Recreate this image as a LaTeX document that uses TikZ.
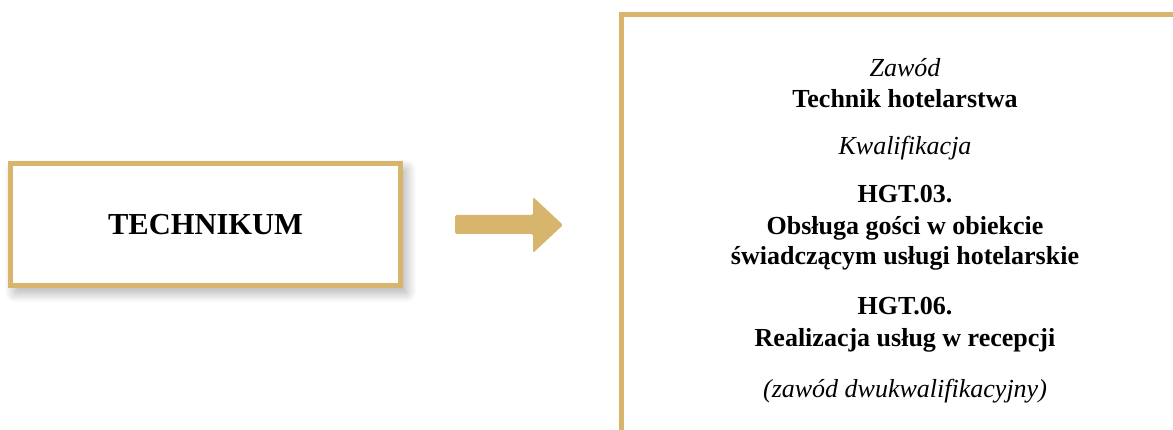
\documentclass[tikz,border=0pt]{standalone}
\usepackage{fontspec}
\setmainfont{Liberation Serif}
\usetikzlibrary{shadows.blur}
\definecolor{gold}{RGB}{215,181,108}

\begin{document}
\begin{tikzpicture}[x=1pt,y=-1pt,
    goldline/.style={draw=gold,line width=5pt},
    ttl/.style={anchor=base,font=\fontsize{26}{30}\selectfont\itshape},
    bld/.style={anchor=base,font=\fontsize{26}{30}\selectfont\bfseries}]
    \useasboundingbox (0,0) rectangle (1173,430);
    \begin{scope}
    \clip (0,0) rectangle (1173,430);
    % left box
    \node[goldline,fill=white,minimum width=390pt,minimum height=122pt,
      blur shadow={shadow xshift=5pt,shadow yshift=-6pt,shadow blur steps=20,shadow opacity=35,shadow blur radius=11pt},
      font=\fontsize{30.5}{36}\selectfont\bfseries] (technikum) at (205.5,225) {TECHNIKUM};
    % arrow
    \fill[gold,rounded corners=1.5pt] (455,215) -- (533,215) -- (533,197) -- (563,225)
      -- (533,253) -- (533,234) -- (455,234) -- cycle;
    % right box
    \coordinate (R0) at (621,440);
    \coordinate (R1) at (621,14.5);
    \coordinate (R2) at (1185,14.5);
    \draw[goldline] (R0) -- (R1) -- (R2);
    \end{scope}
    \node[ttl] (zawod) at (905,77) {Zawód};
    \node[bld] (nazwa) at (905,108) {Technik hotelarstwa};
    \node[ttl] (kwal) at (905,155) {Kwalifikacja};
    \node[bld] (hgt3) at (905,203) {HGT.03.};
    \node[bld] (hgt3a) at (905,235) {Obsługa gości w obiekcie};
    \node[bld] (hgt3b) at (905,265) {świadczącym usługi hotelarskie};
    \node[bld] (hgt6) at (905,315) {HGT.06.};
    \node[bld] (hgt6a) at (905,347) {Realizacja usług w recepcji};
    \node[ttl] (dwu) at (905,397) {(zawód dwukwalifikacyjny)};
\end{tikzpicture}
\end{document}
